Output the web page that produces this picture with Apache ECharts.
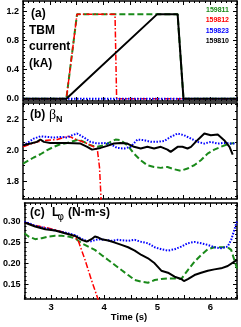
<!DOCTYPE html>
<html><head><meta charset="utf-8">
<script src="https://cdn.jsdelivr.net/npm/echarts@6/dist/echarts.min.js"></script>
<style>html,body{margin:0;padding:0;background:#fff}#c{width:241px;height:327px}</style>
</head><body><div id="c"></div>
<script>
// ---------- data ----------
const shots = ['159811', '159812', '159823', '159810'];
const colors = ['#1a8a1a', '#ff0000', '#0000ff', '#000000'];

// (a) TBM current (kA) vs time (s)
const tbm159811 = [[2.5,0],[3.31,0],[3.51,1.16],[5.39,1.16],[5.5,0],[6.5,0]];
const tbm159812 = [[2.5,0],[3.31,0],[3.51,1.16],[4.22,1.16],[4.25,0],[6.5,0]];
const tbm159823 = [[2.5,0],[6.5,0]];
const tbm159810 = [[2.5,0],[3.31,0],[5.01,1.16],[5.39,1.16],[5.5,0],[6.5,0]];

// (b) beta_N
const beta159811 = [[2.5,1.914],[2.61,1.935],[2.7,1.953],[2.825,1.974],[2.95,2.0],[3.075,2.022],[3.2,2.039],[3.325,2.047],[3.45,2.06],[3.54,2.069],[3.64,2.054],[3.76,2.032],[3.89,2.022],[4.01,2.032],[4.14,2.054],[4.23,2.069],[4.325,2.065],[4.45,2.032],[4.575,1.978],[4.7,1.935],[4.825,1.903],[4.95,1.892],[5.075,1.886],[5.2,1.892],[5.325,1.877],[5.45,1.867],[5.575,1.882],[5.7,1.903],[5.825,1.935],[5.95,1.978],[6.075,2.004],[6.2,2.022],[6.325,2.039],[6.45,2.047]];
const beta159812 = [[2.5,2.022],[2.64,2.039],[2.76,2.054],[2.95,2.065],[3.14,2.069],[3.26,2.082],[3.325,2.09],[3.39,2.086],[3.45,2.075],[3.575,2.06],[3.7,2.043],[3.825,2.022],[3.89,2.004],[3.91,2.0],[3.93,1.89],[3.96,1.68],[3.98,1.61]];
const beta159823 = [[2.5,2.032],[2.61,2.054],[2.7,2.075],[2.825,2.09],[2.95,2.086],[3.075,2.082],[3.2,2.086],[3.325,2.082],[3.42,2.097],[3.51,2.108],[3.64,2.082],[3.76,2.054],[3.89,2.043],[4.01,2.047],[4.14,2.039],[4.26,2.015],[4.39,2.011],[4.51,2.022],[4.64,2.069],[4.76,2.065],[4.89,2.054],[5.01,2.054],[5.14,2.06],[5.26,2.086],[5.39,2.108],[5.51,2.097],[5.64,2.075],[5.76,2.054],[5.89,2.043],[6.01,2.054],[6.14,2.043],[6.26,2.047],[6.39,2.043],[6.48,2.043]];
const beta159810 = [[2.5,2.032],[2.64,2.043],[2.76,2.054],[2.825,2.069],[2.89,2.054],[3.01,2.047],[3.33,2.047],[3.575,2.043],[3.7,2.022],[3.79,2.004],[3.95,2.015],[4.075,2.028],[4.2,2.043],[4.325,2.047],[4.45,2.043],[4.575,2.022],[4.7,2.011],[4.825,2.022],[4.95,2.011],[5.075,2.022],[5.2,2.004],[5.26,1.989],[5.39,2.022],[5.48,2.022],[5.575,2.011],[5.64,2.022],[5.76,2.065],[5.89,2.108],[6.01,2.097],[6.14,2.101],[6.26,2.065],[6.36,2.022],[6.42,1.972]];

// (c) L_phi (N-m-s)
const lphi159811 = [[2.5,0.2727],[2.575,0.2647],[2.7,0.2583],[2.825,0.2607],[2.95,0.2647],[3.075,0.2663],[3.2,0.2663],[3.325,0.2647],[3.45,0.2607],[3.575,0.2486],[3.7,0.2406],[3.825,0.2326],[3.95,0.2205],[4.075,0.2085],[4.2,0.1965],[4.325,0.1844],[4.45,0.1724],[4.575,0.1604],[4.7,0.1563],[4.825,0.1539],[4.95,0.1604],[5.075,0.1628],[5.2,0.1644],[5.325,0.1644],[5.45,0.1628],[5.575,0.1844],[5.7,0.2045],[5.825,0.2205],[5.95,0.2342],[6.075,0.239],[6.2,0.239],[6.325,0.239],[6.39,0.2326],[6.45,0.2085],[6.5,0.188]];
const lphi159812 = [[2.5,0.2984],[2.7,0.2912],[2.89,0.2864],[3.075,0.2807],[3.26,0.2743],[3.42,0.2663],[3.51,0.2551],[3.64,0.2085],[3.76,0.1604],[3.89,0.1122],[3.95,0.088]];
const lphi159823 = [[2.5,0.30],[2.61,0.2952],[2.7,0.2904],[2.89,0.2848],[3.075,0.2791],[3.26,0.2743],[3.45,0.2679],[3.61,0.2567],[3.73,0.2526],[3.89,0.2583],[4.01,0.2567],[4.14,0.2543],[4.26,0.2567],[4.45,0.2543],[4.575,0.2567],[4.7,0.2518],[4.825,0.2486],[4.95,0.239],[5.075,0.2342],[5.2,0.231],[5.325,0.2342],[5.45,0.2406],[5.575,0.2486],[5.7,0.2518],[5.825,0.2486],[5.95,0.2446],[6.075,0.239],[6.2,0.2366],[6.325,0.2406],[6.39,0.2567],[6.45,0.2807],[6.5,0.302]];
const lphi159810 = [[2.5,0.2984],[2.7,0.2888],[2.89,0.2823],[3.075,0.2791],[3.26,0.2727],[3.45,0.2663],[3.575,0.2567],[3.67,0.2526],[3.76,0.2583],[3.825,0.2647],[3.89,0.2623],[3.95,0.2583],[4.075,0.2551],[4.2,0.2502],[4.325,0.2446],[4.45,0.239],[4.575,0.231],[4.7,0.2205],[4.825,0.2125],[4.95,0.2005],[5.075,0.1828],[5.2,0.178],[5.325,0.1684],[5.45,0.1628],[5.5,0.158],[5.575,0.1628],[5.7,0.1724],[5.825,0.178],[5.95,0.1828],[6.075,0.186],[6.2,0.1884],[6.325,0.194],[6.45,0.2045],[6.5,0.209]];

// tick labels
const timeTicks = [3, 4, 5, 6];
const ticksA = [0.0, 0.4, 0.8, 1.2];
const ticksB = [1.8, 2.0, 2.2];
const ticksC = [0.15, 0.20, 0.25, 0.30];

// ---------- chart ----------
const FONT = '"Liberation Sans", Arial, Helvetica, sans-serif';
const panels = [
  {top: 1,   height: 100, min: -0.03, max: 1.34,  ticks: ticksA, minorStep: 0.05, dec: 1, data: [tbm159811, tbm159812, tbm159823, tbm159810]},
  {top: 103, height: 96,  min: 1.685, max: 2.305, ticks: ticksB, minorStep: 0.05, dec: 1, data: [beta159811, beta159812, beta159823, beta159810]},
  {top: 203, height: 96,  min: 0.115, max: 0.345, ticks: ticksC, minorStep: 0.01, dec: 2, data: [lphi159811, lphi159812, lphi159823, lphi159810]}
];
const lineStyles = [
  {type: [6, 3], width: 2},
  {type: [6, 2, 1.5, 2], width: 1.5},
  {type: [1.5, 1.5], width: 2},
  {type: 'solid', width: 2}
];
const axisLine = {show: true, onZero: false, lineStyle: {color: '#000', width: 1.5}};
const grid = [], xAxis = [], yAxis = [], series = [];
panels.forEach((p, i) => {
  grid.push({left: 23, right: 4, top: p.top, height: p.height});
  ['bottom', 'top'].forEach(pos => {
    xAxis.push({
      type: 'value', gridIndex: i, position: pos, min: 2.5, max: 6.5, interval: 0.5,
      axisLine: axisLine, splitLine: {show: false},
      axisTick: {show: true, inside: true, length: 4, lineStyle: {color: '#000', width: 1}},
      minorTick: {show: true, splitNumber: 5, length: 2, lineStyle: {color: '#000', width: 1}},
      axisLabel: {show: i === 2 && pos === 'bottom', margin: 3, color: '#000', fontFamily: FONT, fontWeight: 'bold', fontSize: 9.5,
        formatter: v => timeTicks.some(t => Math.abs(t - v) < 1e-6) ? String(Math.round(v)) : ''}
    });
  });
  const minor = [];
  for (let v = Math.ceil(p.min / p.minorStep) * p.minorStep; v <= p.max + 1e-9; v += p.minorStep) minor.push(+v.toFixed(4));
  ['left', 'right'].forEach(pos => {
    yAxis.push({
      type: 'value', gridIndex: i, position: pos, min: p.min, max: p.max,
      axisLine: axisLine, splitLine: {show: false},
      axisTick: {show: true, inside: true, length: 4, customValues: p.ticks, lineStyle: {color: '#000', width: 1}},
      axisLabel: {show: pos === 'left', customValues: p.ticks, margin: 4, color: '#000', fontFamily: FONT, fontWeight: 'bold', fontSize: 9,
        formatter: v => v.toFixed(p.dec)}
    });
    yAxis.push({
      type: 'value', gridIndex: i, position: pos, min: p.min, max: p.max,
      axisLine: {show: false}, splitLine: {show: false}, axisLabel: {show: false},
      axisTick: {show: true, inside: true, length: 2, customValues: minor, lineStyle: {color: '#000', width: 1}}
    });
  });
  p.data.forEach((d, k) => {
    series.push({
      type: 'line', xAxisIndex: i * 2, yAxisIndex: i * 4, data: d, name: shots[k],
      showSymbol: false, symbol: 'none', silent: true, clip: true, z: 2 + k,
      lineStyle: Object.assign({color: colors[k]}, lineStyles[k])
    });
  });
});

const txt = (text, x, y, font, color, align) => ({
  type: 'text', silent: true, z: 100,
  style: {text: text, x: x, y: y, font: font, fill: color || '#000', align: align || 'left', verticalAlign: 'middle'}
});
const B12 = 'bold 12px ' + FONT;
const graphic = [
  txt('(a)', 31, 14, B12), txt('TBM', 29, 31, B12), txt('current', 29, 47, B12), txt('(kA)', 29, 64, B12),
  txt('(b)', 30, 115, B12), txt('β', 49, 115, '14px "Liberation Serif", serif'), txt('N', 56, 120, 'bold 9px ' + FONT),
  txt('(c)', 30, 213, B12), txt('L', 52, 213, B12), txt('φ', 57.5, 217, '10px "DejaVu Sans", sans-serif'), txt('(N-m-s)', 68, 213, B12),
  txt('Time (s)', 129, 317, 'bold 9.5px ' + FONT, '#000', 'center')
];
shots.forEach((s, k) => graphic.push(txt(s, 229, 10 + k * 10.4, 'bold 7px ' + FONT, colors[k], 'right')));

const chart = echarts.init(document.getElementById('c'), null, {renderer: 'canvas'});
chart.setOption({animation: false, backgroundColor: '#fff', grid, xAxis, yAxis, series, graphic});
</script></body></html>
